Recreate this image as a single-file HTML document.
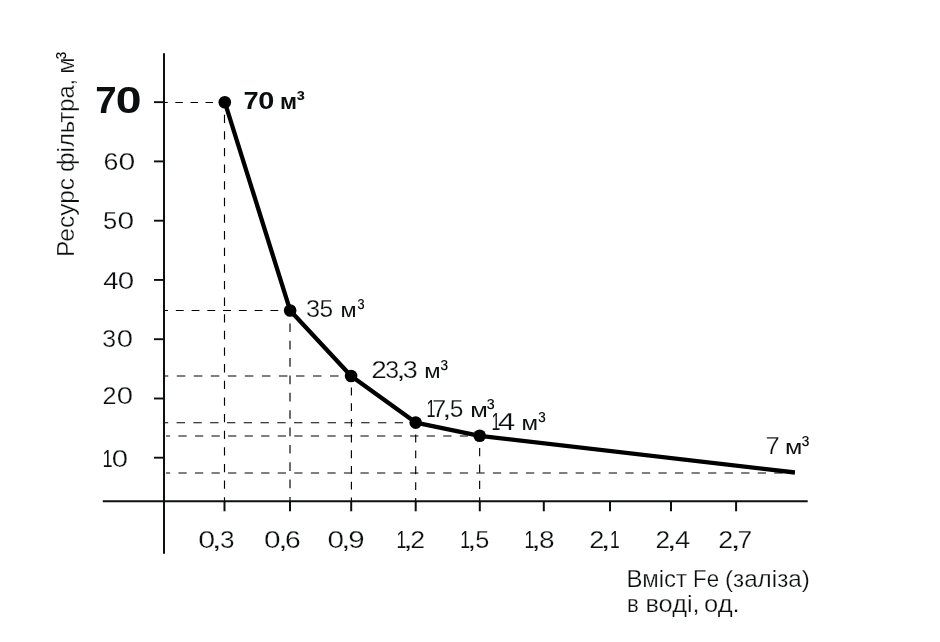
<!DOCTYPE html>
<html lang="uk">
<head>
<meta charset="utf-8">
<title>Ресурс фільтра</title>
<style>
html,body{margin:0;padding:0;background:#fff;}
body{width:940px;height:642px;overflow:hidden;font-family:"Liberation Sans",sans-serif;}
svg{display:block;}
text{fill:#0c0f10;font-family:"Liberation Sans",sans-serif;font-size:23.4px;}
.r{font-weight:normal;stroke:#fff;stroke-width:0.25px;vector-effect:non-scaling-stroke;}
.n{stroke:none;}
.b{font-weight:bold;}
.big{font-weight:bold;font-size:36.7px;}
.u{font-size:21.0px;stroke:none;}
.ub{font-size:22.5px;}
.sup{font-size:24.6px;stroke:none;}
</style>
</head>
<body>
<svg width="940" height="642" viewBox="0 0 940 642">
<rect width="940" height="642" fill="#fff"/>
<g fill="none" stroke="#000" stroke-width="1.15">
<line x1="164.0" y1="102.5" x2="224.4" y2="102.5" stroke-dasharray="7.550 7.550" stroke-dashoffset="3.775"/>
<line x1="164.0" y1="310.5" x2="290.1" y2="310.5" stroke-dasharray="7.881 7.881" stroke-dashoffset="3.941"/>
<line x1="164.0" y1="376.0" x2="351.3" y2="376.0" stroke-dasharray="8.514 8.514" stroke-dashoffset="4.257"/>
<line x1="164.0" y1="422.75" x2="415.7" y2="422.75" stroke-dasharray="8.390 8.390" stroke-dashoffset="4.195"/>
<line x1="166.0" y1="436.0" x2="480.45" y2="436.0" stroke-dasharray="8.275 8.275" stroke-dashoffset="4.138"/>
<line x1="166.0" y1="473.0" x2="795.0" y2="473.0" stroke-dasharray="8.276 8.276" stroke-dashoffset="4.138"/>
<line x1="224.5" y1="102.2" x2="224.5" y2="501.3" stroke-dasharray="8.315 8.315" stroke-dashoffset="4.157"/>
<line x1="290.0" y1="310.4" x2="290.0" y2="501.3" stroke-dasharray="8.677 8.677" stroke-dashoffset="4.339"/>
<line x1="351.4" y1="375.8" x2="351.4" y2="501.3" stroke-dasharray="7.844 7.844" stroke-dashoffset="3.922"/>
<line x1="415.7" y1="422.6" x2="415.7" y2="502.0" stroke-dasharray="7.940 7.940" stroke-dashoffset="3.970"/>
<line x1="479.65" y1="435.8" x2="479.65" y2="501.3" stroke-dasharray="8.188 8.188" stroke-dashoffset="4.094"/>
</g>
<g fill="none" stroke="#0c0f10" stroke-width="2">
<line x1="164.0" y1="53.2" x2="164.0" y2="553.8"/>
<line x1="102.8" y1="501.35" x2="807.7" y2="501.35"/>
<line x1="154.0" y1="102.15" x2="164.0" y2="102.15" stroke-width="1.9"/>
<line x1="154.0" y1="161.4" x2="164.0" y2="161.4" stroke-width="1.9"/>
<line x1="154.0" y1="220.7" x2="164.0" y2="220.7" stroke-width="1.9"/>
<line x1="154.0" y1="279.95" x2="164.0" y2="279.95" stroke-width="1.9"/>
<line x1="154.0" y1="339.2" x2="164.0" y2="339.2" stroke-width="1.9"/>
<line x1="154.0" y1="398.5" x2="164.0" y2="398.5" stroke-width="1.9"/>
<line x1="154.0" y1="457.7" x2="164.0" y2="457.7" stroke-width="1.9"/>
<line x1="224.5" y1="501.35" x2="224.5" y2="511.3"/>
<line x1="290.0" y1="501.35" x2="290.0" y2="511.3"/>
<line x1="351.2" y1="501.35" x2="351.2" y2="511.3"/>
<line x1="415.7" y1="501.35" x2="415.7" y2="511.3"/>
<line x1="479.8" y1="501.35" x2="479.8" y2="511.3"/>
<line x1="543.8" y1="501.35" x2="543.8" y2="511.3"/>
<line x1="610.0" y1="501.35" x2="610.0" y2="511.3"/>
<line x1="671.0" y1="501.35" x2="671.0" y2="511.3"/>
<line x1="736.1" y1="501.35" x2="736.1" y2="511.3"/>
</g>
<polyline points="224.8,102.2 290.15,310.45 351.1,376.0 415.7,422.6 479.7,435.8 794.9,472.5" fill="none" stroke="#000" stroke-width="4.3" stroke-linejoin="round"/>
<g fill="#000">
<circle cx="224.8" cy="102.2" r="6.3"/>
<circle cx="290.15" cy="310.45" r="6.3"/>
<circle cx="351.1" cy="376.0" r="6.3"/>
<circle cx="415.7" cy="422.6" r="6.3"/>
<circle cx="479.7" cy="435.8" r="6.3"/>
</g>
<g>
<text class="big" y="113.00"><tspan x="95.33" textLength="21.41" lengthAdjust="spacingAndGlyphs">7</tspan><tspan x="115.71" textLength="25.77" lengthAdjust="spacingAndGlyphs">0</tspan></text>
<text class="r" y="169.60"><tspan x="103.47" textLength="14.89" lengthAdjust="spacingAndGlyphs">6</tspan><tspan x="118.61" textLength="16.80" lengthAdjust="spacingAndGlyphs">0</tspan></text>
<text class="r" y="228.60"><tspan x="102.91" textLength="14.20" lengthAdjust="spacingAndGlyphs">5</tspan><tspan x="117.62" textLength="16.68" lengthAdjust="spacingAndGlyphs">0</tspan></text>
<text class="r" y="288.60"><tspan x="103.21" textLength="15.40" lengthAdjust="spacingAndGlyphs">4</tspan><tspan x="117.84" textLength="16.45" lengthAdjust="spacingAndGlyphs">0</tspan></text>
<text class="r" y="346.60"><tspan x="102.34" textLength="13.84" lengthAdjust="spacingAndGlyphs">3</tspan><tspan x="116.85" textLength="16.33" lengthAdjust="spacingAndGlyphs">0</tspan></text>
<text class="r" y="403.60"><tspan x="102.45" textLength="14.01" lengthAdjust="spacingAndGlyphs">2</tspan><tspan x="116.85" textLength="16.33" lengthAdjust="spacingAndGlyphs">0</tspan></text>
<text class="r" y="466.60"><tspan x="102.45" textLength="10.02" lengthAdjust="spacingAndGlyphs" class="n">1</tspan><tspan x="111.85" textLength="16.33" lengthAdjust="spacingAndGlyphs">0</tspan></text>
<text class="r" y="547.50"><tspan x="198.20" textLength="16.92" lengthAdjust="spacingAndGlyphs">0</tspan><tspan x="211.30" textLength="10.98" lengthAdjust="spacingAndGlyphs">,</tspan><tspan x="219.98" textLength="14.55" lengthAdjust="spacingAndGlyphs">3</tspan></text>
<text class="r" y="547.50"><tspan x="264.13" textLength="16.57" lengthAdjust="spacingAndGlyphs">0</tspan><tspan x="277.70" textLength="10.40" lengthAdjust="spacingAndGlyphs">,</tspan><tspan x="285.09" textLength="15.74" lengthAdjust="spacingAndGlyphs">6</tspan></text>
<text class="r" y="547.50"><tspan x="327.43" textLength="16.57" lengthAdjust="spacingAndGlyphs">0</tspan><tspan x="340.80" textLength="10.11" lengthAdjust="spacingAndGlyphs">,</tspan><tspan x="348.15" textLength="16.33" lengthAdjust="spacingAndGlyphs">9</tspan></text>
<text class="r" y="547.50"><tspan x="396.57" textLength="9.89" lengthAdjust="spacingAndGlyphs" class="n">1</tspan><tspan x="402.40" textLength="10.98" lengthAdjust="spacingAndGlyphs">,</tspan><tspan x="410.27" textLength="14.88" lengthAdjust="spacingAndGlyphs">2</tspan></text>
<text class="r" y="547.50"><tspan x="460.37" textLength="9.89" lengthAdjust="spacingAndGlyphs" class="n">1</tspan><tspan x="466.80" textLength="10.11" lengthAdjust="spacingAndGlyphs">,</tspan><tspan x="475.32" textLength="14.08" lengthAdjust="spacingAndGlyphs">5</tspan></text>
<text class="r" y="547.50"><tspan x="524.47" textLength="9.89" lengthAdjust="spacingAndGlyphs" class="n">1</tspan><tspan x="530.40" textLength="10.98" lengthAdjust="spacingAndGlyphs">,</tspan><tspan x="539.00" textLength="15.62" lengthAdjust="spacingAndGlyphs">8</tspan></text>
<text class="r" y="547.50"><tspan x="589.15" textLength="15.12" lengthAdjust="spacingAndGlyphs">2</tspan><tspan x="600.10" textLength="11.27" lengthAdjust="spacingAndGlyphs">,</tspan><tspan x="610.00" textLength="9.63" lengthAdjust="spacingAndGlyphs" class="n">1</tspan></text>
<text class="r" y="547.50"><tspan x="655.50" textLength="14.63" lengthAdjust="spacingAndGlyphs">2</tspan><tspan x="666.20" textLength="10.98" lengthAdjust="spacingAndGlyphs">,</tspan><tspan x="675.11" textLength="15.29" lengthAdjust="spacingAndGlyphs">4</tspan></text>
<text class="r" y="547.50"><tspan x="718.36" textLength="15.00" lengthAdjust="spacingAndGlyphs">2</tspan><tspan x="729.90" textLength="11.27" lengthAdjust="spacingAndGlyphs">,</tspan><tspan x="737.48" textLength="14.75" lengthAdjust="spacingAndGlyphs">7</tspan></text>
<text class="b" y="108.70"><tspan x="243.54" textLength="15.15" lengthAdjust="spacingAndGlyphs">7</tspan><tspan x="258.16" textLength="16.09" lengthAdjust="spacingAndGlyphs">0</tspan> <tspan x="279.97" textLength="17.03" lengthAdjust="spacingAndGlyphs" class="ub">м</tspan><tspan x="296.59" textLength="8.37" lengthAdjust="spacingAndGlyphs" class="sup" dy="-0.8">³</tspan></text>
<text class="r" y="316.80"><tspan x="306.02" textLength="14.08" lengthAdjust="spacingAndGlyphs">3</tspan><tspan x="319.55" textLength="13.61" lengthAdjust="spacingAndGlyphs">5</tspan> <tspan x="340.63" textLength="16.07" lengthAdjust="spacingAndGlyphs" class="u">м</tspan><tspan x="357.49" textLength="7.00" lengthAdjust="spacingAndGlyphs" class="sup" dy="-0.8">³</tspan></text>
<text class="r" y="377.80"><tspan x="371.31" textLength="15.49" lengthAdjust="spacingAndGlyphs">2</tspan><tspan x="385.24" textLength="13.84" lengthAdjust="spacingAndGlyphs">3</tspan><tspan x="395.80" textLength="10.40" lengthAdjust="spacingAndGlyphs">,</tspan><tspan x="402.85" textLength="15.03" lengthAdjust="spacingAndGlyphs">3</tspan> <tspan x="424.30" textLength="16.32" lengthAdjust="spacingAndGlyphs" class="u">м</tspan><tspan x="440.57" textLength="7.55" lengthAdjust="spacingAndGlyphs" class="sup" dy="-0.8">³</tspan></text>
<text class="r" y="416.50"><tspan x="426.49" textLength="8.98" lengthAdjust="spacingAndGlyphs" class="n">1</tspan><tspan x="432.13" textLength="14.26" lengthAdjust="spacingAndGlyphs">7</tspan><tspan x="441.70" textLength="10.11" lengthAdjust="spacingAndGlyphs">,</tspan><tspan x="449.85" textLength="13.61" lengthAdjust="spacingAndGlyphs">5</tspan> <tspan x="470.17" textLength="17.58" lengthAdjust="spacingAndGlyphs" class="u">м</tspan><tspan x="486.86" textLength="7.87" lengthAdjust="spacingAndGlyphs" class="sup" dy="-0.8">³</tspan></text>
<text class="r" y="429.60"><tspan x="491.61" textLength="8.85" lengthAdjust="spacingAndGlyphs" class="n">1</tspan><tspan x="497.73" textLength="17.50" lengthAdjust="spacingAndGlyphs">4</tspan> <tspan x="521.58" textLength="16.57" lengthAdjust="spacingAndGlyphs" class="u">м</tspan><tspan x="538.27" textLength="7.44" lengthAdjust="spacingAndGlyphs" class="sup" dy="-0.8">³</tspan></text>
<text class="r" y="453.60"><tspan x="765.53" textLength="14.26" lengthAdjust="spacingAndGlyphs">7</tspan> <tspan x="784.90" textLength="17.32" lengthAdjust="spacingAndGlyphs" class="u">м</tspan><tspan x="801.87" textLength="7.55" lengthAdjust="spacingAndGlyphs" class="sup" dy="-0.8">³</tspan></text>
<text class="r" y="586.90"><tspan x="626.55" textLength="60.54" lengthAdjust="spacingAndGlyphs">Вміст</tspan> <tspan x="693.09" textLength="26.00" lengthAdjust="spacingAndGlyphs">Fe</tspan> <tspan x="724.94" textLength="84.90" lengthAdjust="spacingAndGlyphs">(заліза)</tspan></text>
<text class="r" y="611.80"><tspan x="626.88" textLength="11.82" lengthAdjust="spacingAndGlyphs">в</tspan> <tspan x="645.48" textLength="54.10" lengthAdjust="spacingAndGlyphs">воді,</tspan> <tspan x="704.11" textLength="35.53" lengthAdjust="spacingAndGlyphs">од.</tspan></text>
<text class="r" transform="translate(74.00,254.80) rotate(-90)"><tspan x="-2.09" textLength="78.89" lengthAdjust="spacingAndGlyphs">Ресурс</tspan> <tspan x="82.88" textLength="93.14" lengthAdjust="spacingAndGlyphs">фільтра,</tspan> <tspan x="181.08" textLength="16.34" lengthAdjust="spacingAndGlyphs">м</tspan><tspan x="195.68" textLength="7.33" lengthAdjust="spacingAndGlyphs" class="sup" dy="-0.8">³</tspan></text>
</g>
</svg>
</body>
</html>
